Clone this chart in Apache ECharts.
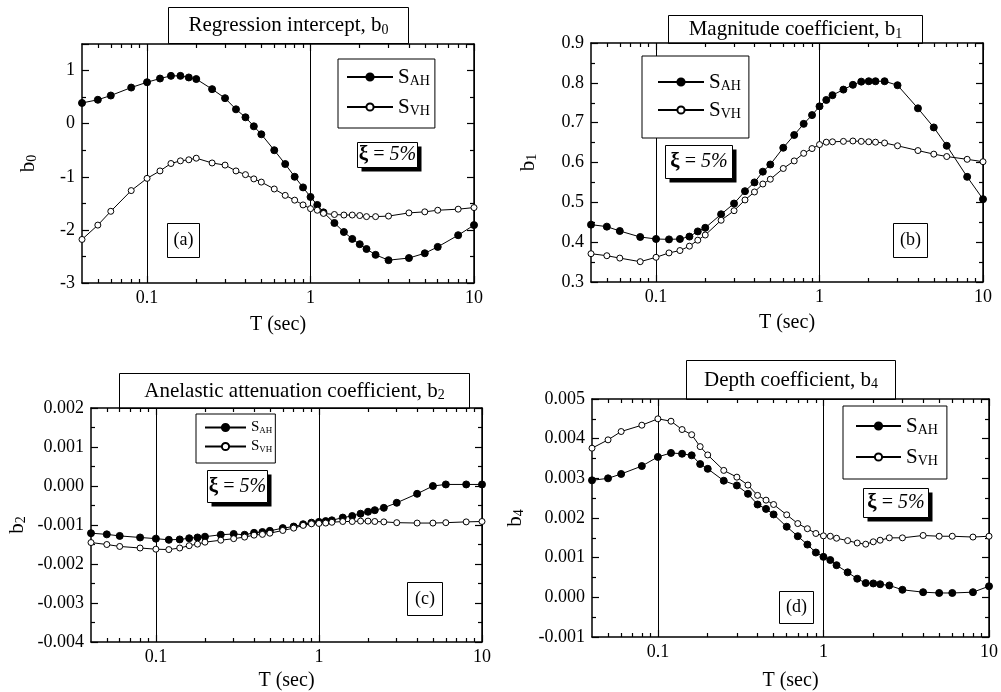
<!DOCTYPE html>
<html>
<head>
<meta charset="utf-8">
<script src="https://cdn.jsdelivr.net/npm/echarts@6.0.0/dist/echarts.min.js"></script>
<style>
  html, body { margin: 0; padding: 0; background: #fff; }
  #chart { width: 1001px; height: 692px; }
</style>
</head>
<body>
<div id="chart"></div>
<script>
// spectral periods T (sec), shared by all four panels
const periods = [0.04, 0.05, 0.06, 0.08, 0.1, 0.12, 0.14, 0.16, 0.18, 0.2, 0.25, 0.3, 0.35, 0.4, 0.45, 0.5,
  0.6, 0.7, 0.8, 0.9, 1.0, 1.1, 1.2, 1.4, 1.6, 1.8, 2.0, 2.2, 2.5, 3.0, 4.0, 5.0, 6.0, 8.0, 10.0];

// x tick values (log axis)
const xTickLabels = [0.1, 1, 10];
const xMinorTicks = [0.05, 0.06, 0.07, 0.08, 0.09, 0.2, 0.3, 0.4, 0.5, 0.6, 0.7, 0.8, 0.9, 2, 3, 4, 5, 6, 7, 8, 9];

// (a) regression intercept b0
const b0SAH = [0.39, 0.45, 0.53, 0.68, 0.78, 0.85, 0.90, 0.90, 0.87, 0.84, 0.65, 0.48, 0.27, 0.12, -0.05, -0.20,
  -0.50, -0.76, -1.00, -1.20, -1.38, -1.53, -1.67, -1.87, -2.04, -2.17, -2.27, -2.36, -2.47, -2.57, -2.53, -2.44, -2.32, -2.10, -1.91];
const b0SVH = [-2.18, -1.91, -1.65, -1.26, -1.03, -0.89, -0.75, -0.70, -0.68, -0.65, -0.74, -0.78, -0.89, -0.96, -1.04, -1.10,
  -1.23, -1.35, -1.44, -1.53, -1.60, -1.63, -1.69, -1.71, -1.72, -1.72, -1.73, -1.75, -1.75, -1.74, -1.68, -1.66, -1.63, -1.61, -1.58];

// (b) magnitude coefficient b1
const b1SAH = [0.444, 0.439, 0.428, 0.413, 0.408, 0.407, 0.408, 0.414, 0.427, 0.436, 0.470, 0.497, 0.528, 0.550, 0.577, 0.595,
  0.637, 0.669, 0.697, 0.719, 0.741, 0.757, 0.769, 0.783, 0.795, 0.803, 0.804, 0.804, 0.804, 0.794, 0.736, 0.688, 0.642, 0.564, 0.508];
const b1SVH = [0.371, 0.366, 0.360, 0.351, 0.362, 0.373, 0.379, 0.390, 0.405, 0.418, 0.455, 0.479, 0.506, 0.526, 0.546, 0.558,
  0.585, 0.604, 0.623, 0.635, 0.645, 0.651, 0.652, 0.653, 0.654, 0.653, 0.652, 0.651, 0.649, 0.642, 0.630, 0.621, 0.615, 0.608, 0.602];

// (c) anelastic attenuation coefficient b2
const b2SAH = [-0.00121, -0.00124, -0.00128, -0.00132, -0.00135, -0.00138, -0.00137, -0.00134, -0.00132, -0.00130, -0.00125, -0.00123,
  -0.00125, -0.00120, -0.00118, -0.00115, -0.00108, -0.00104, -0.00098, -0.00094, -0.00092, -0.00090, -0.00088, -0.00081, -0.00077,
  -0.00071, -0.00066, -0.00062, -0.00056, -0.00043, -0.00020, 0.00000, 0.00004, 0.00004, 0.00004];
const b2SVH = [-0.00145, -0.00150, -0.00155, -0.00159, -0.00162, -0.00163, -0.00159, -0.00153, -0.00149, -0.00144, -0.00139, -0.00135,
  -0.00131, -0.00126, -0.00124, -0.00121, -0.00114, -0.00108, -0.00101, -0.00097, -0.00096, -0.00095, -0.00093, -0.00091, -0.00091,
  -0.00090, -0.00090, -0.00091, -0.00092, -0.00094, -0.00095, -0.00095, -0.00094, -0.00092, -0.00091];

// (d) depth coefficient b4
const b4SAH = [0.00295, 0.00300, 0.00311, 0.00331, 0.00354, 0.00364, 0.00362, 0.00358, 0.00336, 0.00324, 0.00294, 0.00282,
  0.00261, 0.00234, 0.00223, 0.00209, 0.00178, 0.00154, 0.00133, 0.00113, 0.00102, 0.00094, 0.00081, 0.00063, 0.00047,
  0.00036, 0.00035, 0.00033, 0.00030, 0.00019, 0.00013, 0.00011, 0.00011, 0.00013, 0.00028];
const b4SVH = [0.00376, 0.00397, 0.00418, 0.00434, 0.00450, 0.00444, 0.00423, 0.00410, 0.00380, 0.00359, 0.00320, 0.00303,
  0.00283, 0.00257, 0.00245, 0.00234, 0.00208, 0.00186, 0.00173, 0.00161, 0.00155, 0.00154, 0.00149, 0.00143, 0.00137,
  0.00134, 0.00140, 0.00144, 0.00150, 0.00150, 0.00156, 0.00154, 0.00154, 0.00152, 0.00154];

const FONT = '"Liberation Serif", "Times New Roman", Times, serif';
const BLACK = '#000';

const fmt3 = v => (Math.abs(v) < 1e-9 ? '0.000' : v.toFixed(3));

// layout of the four panels (positions in px)
const panels = [
  {
    title: 'Regression intercept, b', sub: '0', sah: b0SAH, svh: b0SVH,
    yMin: -3, yMax: 1.5, yStep: 1, fmt: v => (v > 1.01 ? '' : String(v)),
    grid: { left: 82, top: 44, width: 392, height: 239 },
    titleBox: [168, 7, 240, 36], xiBox: [357, 142, 60, 25], tagBox: [167, 223, 32, 34], tag: '(a)',
    legend: { left: 338, top: 59, padding: [7, 5, 10, 8], gap: 8, iw: 46, ih: 9, fs: 21, ss: 14, lh: 22 },
    yGap: 42, xGap: 32, sym: 7
  },
  {
    title: 'Magnitude coefficient, b', sub: '1', sah: b1SAH, svh: b1SVH,
    yMin: 0.3, yMax: 0.9, yStep: 0.1, fmt: v => v.toFixed(1),
    grid: { left: 591, top: 43, width: 392, height: 239 },
    titleBox: [668, 15, 254, 28], xiBox: [665, 145, 67, 33], tagBox: [893, 223, 34, 34], tag: '(b)',
    legend: { left: 642, top: 56, padding: [15, 8, 17, 15], gap: 6, iw: 46, ih: 9, fs: 21, ss: 14, lh: 22 },
    yGap: 51, xGap: 31, sym: 7
  },
  {
    title: 'Anelastic attenuation coefficient, b', sub: '2', sah: b2SAH, svh: b2SVH,
    yMin: -0.004, yMax: 0.002, yStep: 0.001, fmt: fmt3,
    grid: { left: 91, top: 408, width: 391, height: 234 },
    titleBox: [119, 373, 350, 35], xiBox: [207, 470, 60, 32], tagBox: [407, 582, 35, 33], tag: '(c)',
    legend: { left: 196, top: 414, padding: [6, 3, 9, 8], gap: 4, iw: 41, ih: 9, fs: 15, ss: 9, lh: 16 },
    yGap: 62, xGap: 29, sym: 7
  },
  {
    title: 'Depth coefficient, b', sub: '4', sah: b4SAH, svh: b4SVH,
    yMin: -0.001, yMax: 0.005, yStep: 0.001, fmt: fmt3,
    grid: { left: 592, top: 399, width: 397, height: 238 },
    titleBox: [686, 360, 209, 39], xiBox: [863, 488, 65, 29], tagBox: [779, 591, 34, 32], tag: '(d)',
    legend: { left: 843, top: 406, padding: [9, 9, 11, 12], gap: 9, iw: 45, ih: 9, fs: 21, ss: 14, lh: 22 },
    yGap: 65, xGap: 34, sym: 7
  }
];

const frameStyle = { color: BLACK, width: 1.5 };
const tickStyle = { color: BLACK, width: 1.2 };
const splitStyle = { color: BLACK, width: 1 };
const labelStyle = { color: BLACK, fontFamily: FONT, fontSize: 18 };

const grids = [];
const xAxes = [];
const yAxes = [];
const series = [];
const legends = [];
const graphics = [];

// one log x axis; several are stacked per grid for major / minor ticks on both sides
function logAxis(gridIndex, position, extra) {
  return Object.assign({
    type: 'log', logBase: 10, min: 0.04, max: 10, gridIndex, position,
    axisLine: { show: false, onZero: false },
    axisLabel: { show: false },
    splitLine: { show: false },
    silent: true
  }, extra);
}

function boxGroup(box, text, rich, fontSize, shadow) {
  const [x, y, w, h] = box;
  const children = [];
  if (shadow) {
    children.push({ type: 'rect', shape: { x: shadow, y: shadow, width: w, height: h }, style: { fill: BLACK } });
  }
  children.push({ type: 'rect', shape: { x: 0, y: 0, width: w, height: h }, style: { fill: '#fff', stroke: BLACK, lineWidth: 1 } });
  children.push({
    type: 'text', x: w / 2, y: h / 2,
    style: { text, rich, align: 'center', verticalAlign: 'middle', fill: BLACK, fontFamily: FONT, fontSize }
  });
  return { type: 'group', x: x + 0.5, y: y + 0.5, z: 10, children };
}

panels.forEach((p, i) => {
  grids.push(Object.assign({ containLabel: false, outerBoundsMode: 'none' }, p.grid));

  // bottom: main ticks + labels + vertical split lines at 0.1 and 1
  xAxes.push(logAxis(i, 'bottom', {
    axisLine: { show: true, onZero: false, lineStyle: frameStyle },
    axisTick: { show: true, inside: true, length: 7, customValues: xTickLabels, lineStyle: tickStyle },
    axisLabel: Object.assign({ show: true, margin: 6, customValues: xTickLabels, formatter: v => String(+(+v).toPrecision(3)) }, labelStyle),
    splitLine: { show: true, lineStyle: splitStyle },
    name: 'T (sec)', nameLocation: 'middle', nameGap: p.xGap,
    nameTextStyle: { color: BLACK, fontFamily: FONT, fontSize: 20 }
  }));
  xAxes.push(logAxis(i, 'bottom', {
    axisTick: { show: true, inside: true, length: 4, customValues: xMinorTicks, lineStyle: tickStyle }
  }));
  // top: mirrored frame and ticks
  xAxes.push(logAxis(i, 'top', {
    axisLine: { show: true, onZero: false, lineStyle: frameStyle },
    axisTick: { show: true, inside: true, length: 7, customValues: xTickLabels, lineStyle: tickStyle }
  }));
  xAxes.push(logAxis(i, 'top', {
    axisTick: { show: true, inside: true, length: 4, customValues: xMinorTicks, lineStyle: tickStyle }
  }));

  const yBase = {
    type: 'value', gridIndex: i, min: p.yMin, max: p.yMax, interval: p.yStep,
    axisLine: { show: true, onZero: false, lineStyle: frameStyle },
    axisTick: { show: true, inside: true, length: 7, lineStyle: tickStyle },
    minorTick: { show: true, splitNumber: 2, length: 4, lineStyle: tickStyle },
    splitLine: { show: false },
    silent: true
  };
  yAxes.push(Object.assign({}, yBase, {
    position: 'left',
    axisLabel: Object.assign({ margin: 7, formatter: p.fmt }, labelStyle),
    name: '{m|b}{s|' + p.sub + '}', nameLocation: 'middle', nameRotate: 90, nameGap: p.yGap,
    nameTextStyle: {
      color: BLACK, fontFamily: FONT,
      rich: {
        m: { fontFamily: FONT, fontSize: 21, color: BLACK, lineHeight: 24 },
        s: { fontFamily: FONT, fontSize: 14, color: BLACK, lineHeight: 24, padding: [9, 0, 0, 0] }
      }
    }
  }));
  yAxes.push(Object.assign({}, yBase, { position: 'right', axisLabel: { show: false } }));

  const pts = vals => periods.map((t, k) => [t, vals[k]]);
  series.push({
    name: 'SAH', type: 'line', xAxisIndex: 4 * i, yAxisIndex: 2 * i, data: pts(p.sah),
    symbol: 'circle', symbolSize: p.sym, showAllSymbol: true,
    lineStyle: { color: BLACK, width: 1 },
    itemStyle: { color: BLACK, borderColor: BLACK, borderWidth: 1 },
    emphasis: { disabled: true }, z: 3
  });
  series.push({
    name: 'SVH', type: 'line', xAxisIndex: 4 * i, yAxisIndex: 2 * i, data: pts(p.svh),
    symbol: 'circle', symbolSize: p.sym - 1, showAllSymbol: true,
    lineStyle: { color: BLACK, width: 1 },
    itemStyle: { color: '#fff', borderColor: BLACK, borderWidth: 1 },
    emphasis: { disabled: true }, z: 4
  });

  const L = p.legend;
  legends.push({
    orient: 'vertical', left: L.left, top: L.top, padding: L.padding, itemGap: L.gap,
    itemWidth: L.iw, itemHeight: L.ih, selectedMode: false,
    borderColor: BLACK, borderWidth: 1, backgroundColor: '#fff', borderRadius: 0, z: 10,
    data: ['SAH', 'SVH'],
    formatter: n => '{m|S}{s|' + n.slice(1) + '}',
    textStyle: {
      color: BLACK, fontFamily: FONT,
      rich: {
        m: { fontFamily: FONT, fontSize: L.fs, color: BLACK, lineHeight: L.lh },
        s: { fontFamily: FONT, fontSize: L.ss, color: BLACK, lineHeight: L.lh, padding: [Math.round(L.fs * 0.4), 0, 0, 0] }
      }
    }
  });

  graphics.push(boxGroup(p.titleBox, '{m|' + p.title + '}{s|' + p.sub + '}', {
    m: { fontFamily: FONT, fontSize: 21, color: BLACK, lineHeight: 24 },
    s: { fontFamily: FONT, fontSize: 14, color: BLACK, lineHeight: 24, padding: [9, 0, 0, 0] }
  }, 21, 0));
  graphics.push(boxGroup(p.xiBox, '{g|\u03be}{i|\u2009=\u20095%}', {
    g: { fontFamily: FONT, fontSize: 21, fontWeight: 'bold', color: BLACK },
    i: { fontFamily: FONT, fontSize: 20, fontStyle: 'italic', color: BLACK }
  }, 20, 4));
  graphics.push(boxGroup(p.tagBox, p.tag, null, 18, 0));
});

const chart = echarts.init(document.getElementById('chart'), null, { renderer: 'canvas' });
chart.setOption({
  backgroundColor: '#fff',
  animation: false,
  grid: grids,
  xAxis: xAxes,
  yAxis: yAxes,
  legend: legends,
  series,
  graphic: { elements: graphics }
});
</script>
</body>
</html>
